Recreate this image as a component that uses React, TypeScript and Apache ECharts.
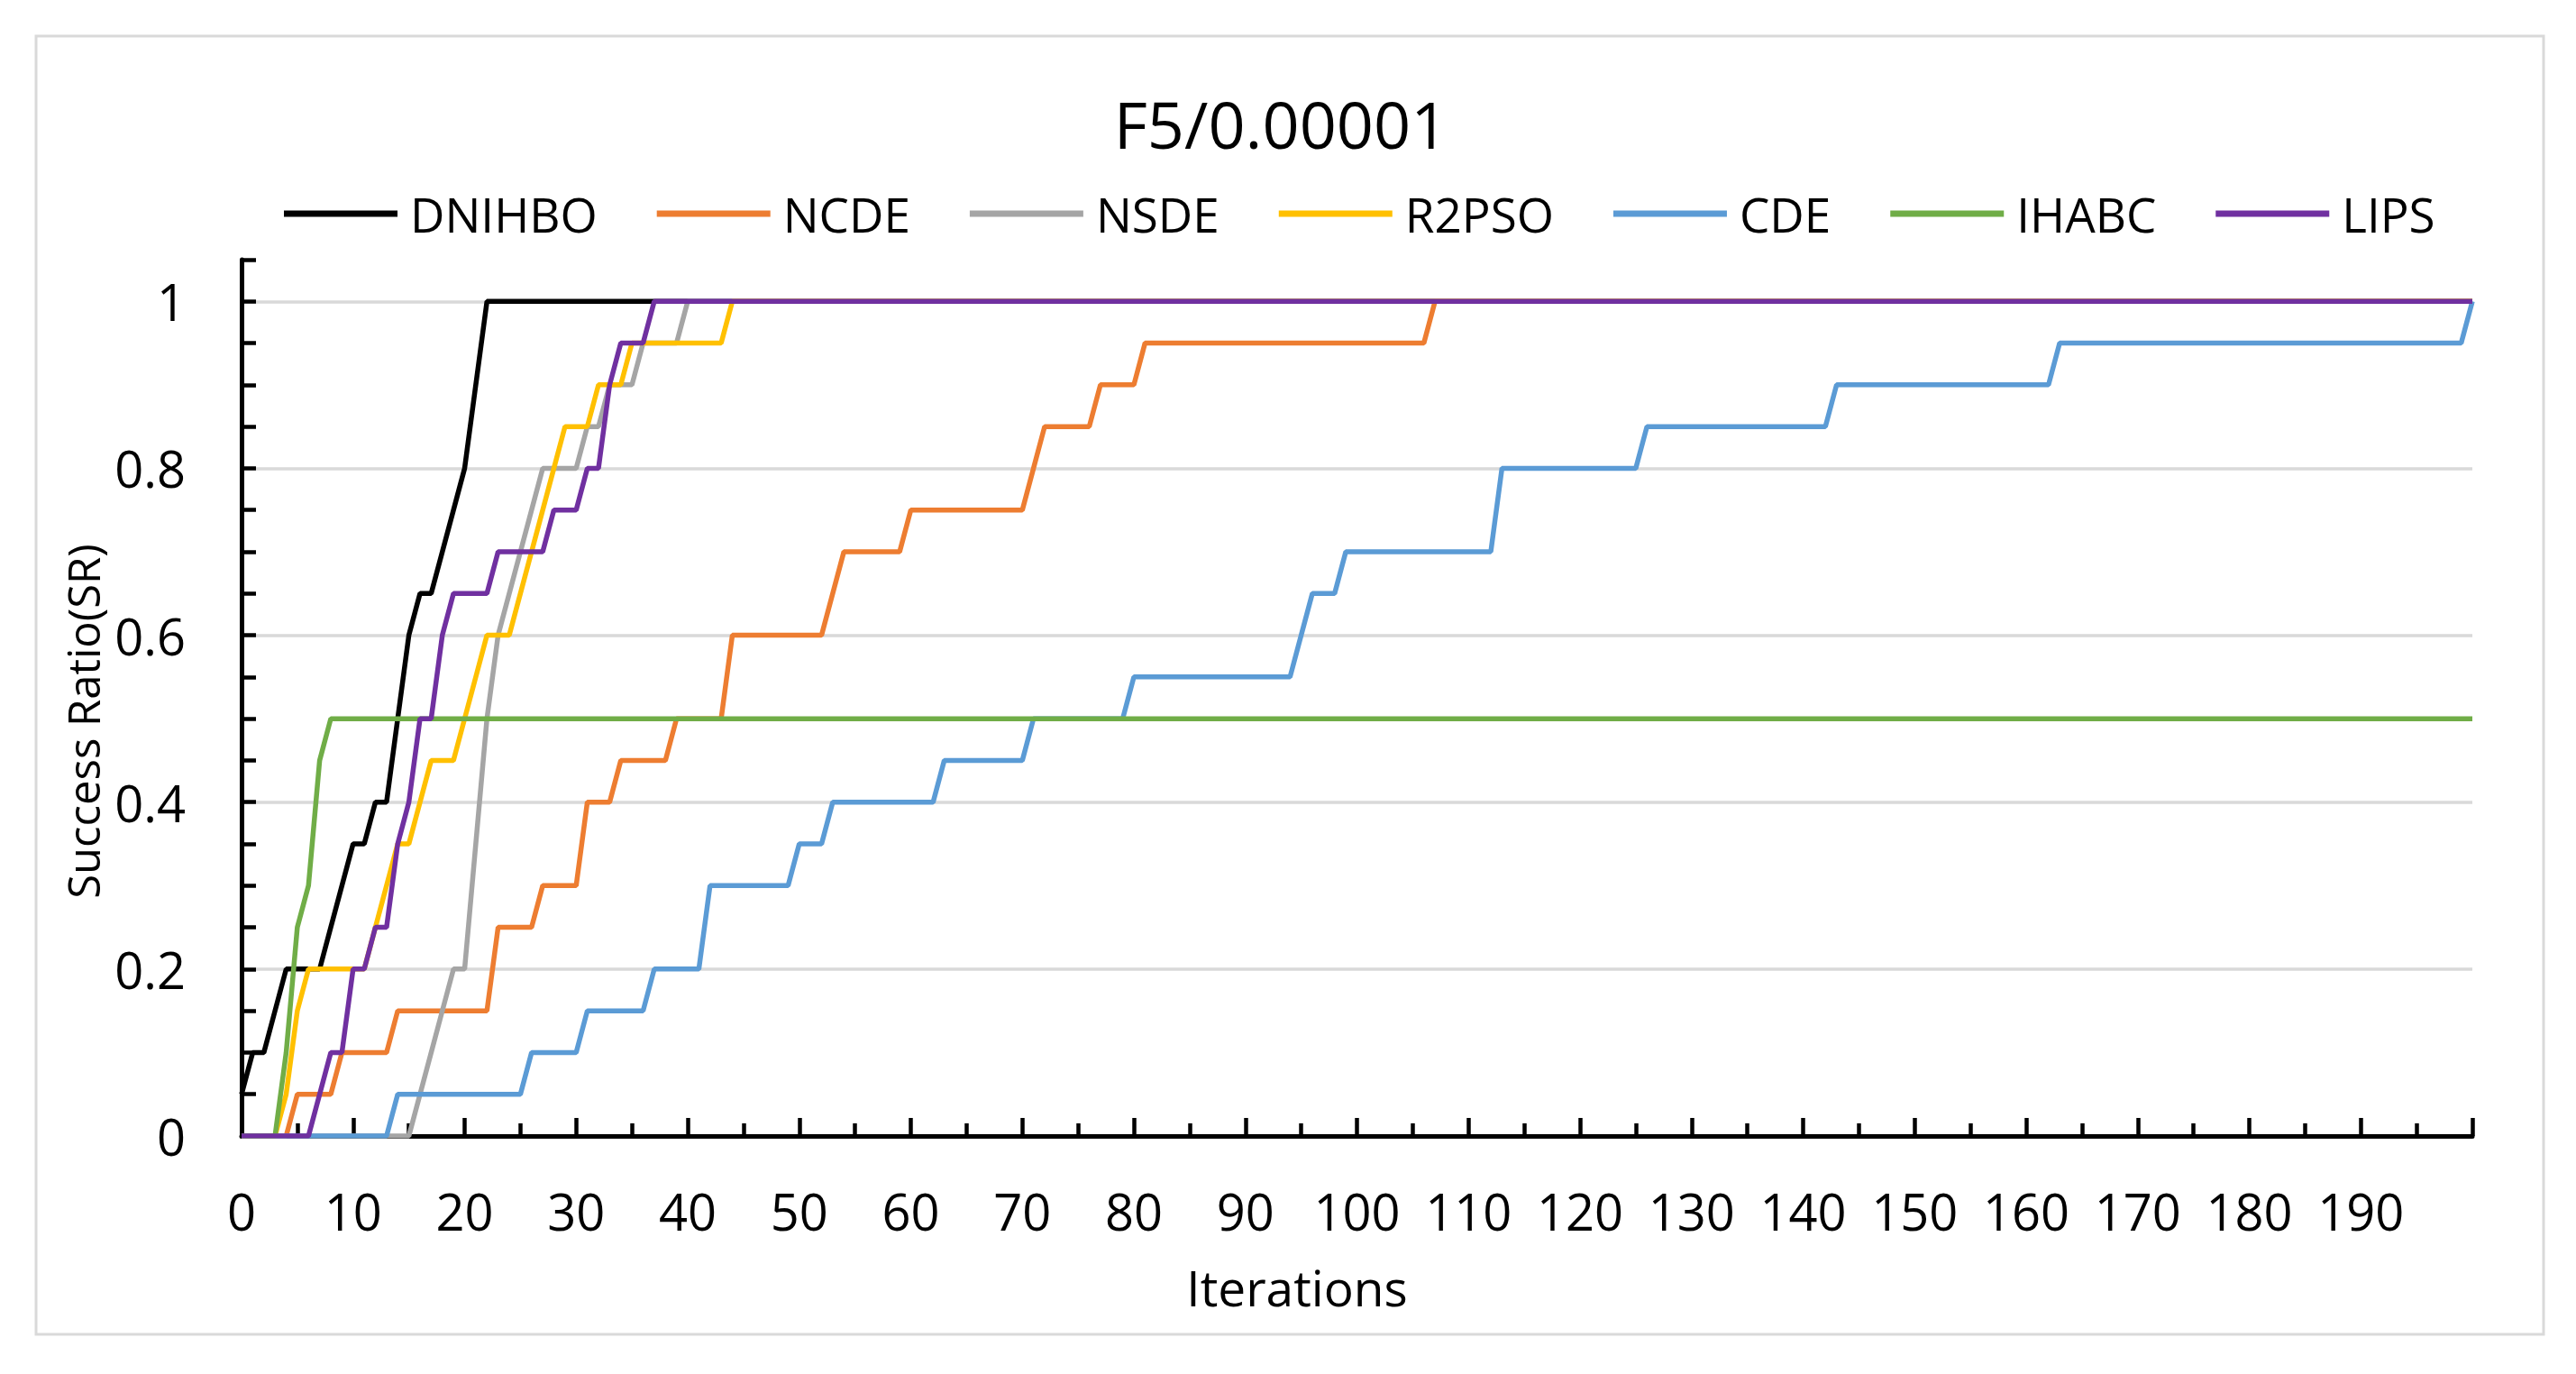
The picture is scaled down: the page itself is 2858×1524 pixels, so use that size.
import React, { useEffect, useRef } from "react";
import * as echarts from "echarts";

const chartTitle = "F5/0.00001";
const xAxisTitle = "Iterations";
const yAxisTitle = "Success Ratio(SR)";
const seriesNames = ["DNIHBO", "NCDE", "NSDE", "R2PSO", "CDE", "IHABC", "LIPS"];
const seriesColors = ["#000000", "#ED7D31", "#A5A5A5", "#FFC000", "#5B9BD5", "#70AD47", "#7030A0"];

const xMin = 0;
const xMax = 200;
const xStep = 10;
const yMin = 0;
const yMax = 1.05;
const yStep = 0.05;
const yLabelValues = [0, 0.2, 0.4, 0.6, 0.8, 1];

// Vertices [iteration, success ratio]
const dnihbo = [[0, 0.05], [1, 0.1], [2, 0.1], [3, 0.15], [4, 0.2], [7, 0.2], [8, 0.25], [9, 0.3], [10, 0.35], [11, 0.35], [12, 0.4], [13, 0.4], [14, 0.5], [15, 0.6], [16, 0.65], [17, 0.65], [18, 0.7], [19, 0.75], [20, 0.8], [21, 0.9], [22, 1], [200, 1]];
const ncde = [[0, 0], [4, 0], [5, 0.05], [8, 0.05], [9, 0.1], [13, 0.1], [14, 0.15], [22, 0.15], [23, 0.25], [26, 0.25], [27, 0.3], [30, 0.3], [31, 0.4], [33, 0.4], [34, 0.45], [38, 0.45], [39, 0.5], [43, 0.5], [44, 0.6], [52, 0.6], [53, 0.65], [54, 0.7], [59, 0.7], [60, 0.75], [70, 0.75], [71, 0.8], [72, 0.85], [76, 0.85], [77, 0.9], [80, 0.9], [81, 0.95], [106, 0.95], [107, 1], [200, 1]];
const nsde = [[0, 0], [15, 0], [16, 0.05], [17, 0.1], [18, 0.15], [19, 0.2], [20, 0.2], [21, 0.35], [22, 0.5], [23, 0.6], [24, 0.65], [25, 0.7], [26, 0.75], [27, 0.8], [30, 0.8], [31, 0.85], [32, 0.85], [33, 0.9], [35, 0.9], [36, 0.95], [39, 0.95], [40, 1], [200, 1]];
const r2pso = [[0, 0], [3, 0], [4, 0.05], [5, 0.15], [6, 0.2], [11, 0.2], [12, 0.25], [13, 0.3], [14, 0.35], [15, 0.35], [16, 0.4], [17, 0.45], [19, 0.45], [20, 0.5], [21, 0.55], [22, 0.6], [24, 0.6], [25, 0.65], [26, 0.7], [27, 0.75], [28, 0.8], [29, 0.85], [31, 0.85], [32, 0.9], [34, 0.9], [35, 0.95], [43, 0.95], [44, 1], [200, 1]];
const cde = [[0, 0], [13, 0], [14, 0.05], [25, 0.05], [26, 0.1], [30, 0.1], [31, 0.15], [36, 0.15], [37, 0.2], [41, 0.2], [42, 0.3], [49, 0.3], [50, 0.35], [52, 0.35], [53, 0.4], [62, 0.4], [63, 0.45], [70, 0.45], [71, 0.5], [79, 0.5], [80, 0.55], [94, 0.55], [95, 0.6], [96, 0.65], [98, 0.65], [99, 0.7], [112, 0.7], [113, 0.8], [125, 0.8], [126, 0.85], [142, 0.85], [143, 0.9], [162, 0.9], [163, 0.95], [199, 0.95], [200, 1]];
const ihabc = [[0, 0], [3, 0], [4, 0.1], [5, 0.25], [6, 0.3], [7, 0.45], [8, 0.5], [200, 0.5]];
const lips = [[0, 0], [6, 0], [7, 0.05], [8, 0.1], [9, 0.1], [10, 0.2], [11, 0.2], [12, 0.25], [13, 0.25], [14, 0.35], [15, 0.4], [16, 0.5], [17, 0.5], [18, 0.6], [19, 0.65], [22, 0.65], [23, 0.7], [27, 0.7], [28, 0.75], [30, 0.75], [31, 0.8], [32, 0.8], [33, 0.9], [34, 0.95], [36, 0.95], [37, 1], [200, 1]];

const seriesData = [dnihbo, ncde, nsde, r2pso, cde, ihabc, lips];

const FONT = "'Open Sans', 'Noto Sans', sans-serif";

export default function App() {
  const ref = useRef<HTMLDivElement>(null);

  useEffect(() => {
    if (!ref.current) return;
    const chart = echarts.init(ref.current, null, { renderer: "svg" });

    const yTickCount = Math.round((yMax - yMin) / yStep) + 1;
    const splitColors: string[] = [];
    for (let i = 0; i < yTickCount; i++) {
      const v = yMin + i * yStep;
      const isLabel = yLabelValues.some((l) => Math.abs(l - v) < 1e-6);
      splitColors.push(isLabel ? "#d9d9d9" : "rgba(0,0,0,0)");
    }

    const option: any = {
      animation: false,
      backgroundColor: "#ffffff",
      title: {
        text: chartTitle,
        left: 1413,
        top: 86,
        textAlign: "center",
        padding: 0,
        textStyle: { fontFamily: FONT, fontSize: 72, fontWeight: "normal", color: "#000000", lineHeight: 86 },
      },
      legend: {
        data: seriesNames,
        top: 197,
        left: 307,
        padding: 0,
        icon: "rect",
        itemWidth: 126,
        itemHeight: 7,
        itemGap: 66,
        textStyle: { fontFamily: FONT, fontSize: 53, color: "#000000", lineHeight: 64, padding: [0, 0, 0, 9] },
      },
      grid: { left: 260, right: 107, top: 280, bottom: 256, containLabel: false },
      xAxis: {
        type: "value",
        min: xMin,
        max: xMax,
        interval: xStep,
        axisLine: { show: true, onZero: false, lineStyle: { color: "#000000", width: 5 } },
        axisTick: { show: true, inside: true, length: 20, lineStyle: { color: "#000000", width: 4.5 } },
        minorTick: { show: true, splitNumber: 2, length: 14, lineStyle: { color: "#000000", width: 4.5 } },
        axisLabel: {
          margin: 55,
          fontFamily: FONT,
          fontSize: 56,
          color: "#000000",
          formatter: (v: number) => (v >= xMax ? "" : String(v)),
        },
        splitLine: { show: false },
      },
      yAxis: {
        type: "value",
        min: yMin,
        max: yMax,
        interval: yStep,
        axisLine: { show: true, lineStyle: { color: "#000000", width: 5 } },
        axisTick: { show: true, inside: true, length: 16, lineStyle: { color: "#000000", width: 4.5 } },
        axisLabel: {
          margin: 62,
          fontFamily: FONT,
          fontSize: 56,
          color: "#000000",
          formatter: (v: number) => {
            const hit = yLabelValues.find((l) => Math.abs(l - v) < 1e-6);
            return hit === undefined ? "" : String(hit);
          },
        },
        splitLine: { show: true, lineStyle: { color: splitColors, width: 3.5 } },
      },
      graphic: [
        {
          type: "rect",
          silent: true,
          z: -10,
          shape: { x: 32, y: 32, width: 2782, height: 1440 },
          style: { fill: "none", stroke: "#d9d9d9", lineWidth: 3 },
        },
        {
          type: "text",
          x: 1431,
          y: 1419,
          style: { text: xAxisTitle, fontFamily: FONT, fontSize: 55, fill: "#000000", align: "center", verticalAlign: "middle" },
        },
        {
          type: "text",
          x: 84,
          y: 792,
          rotation: Math.PI / 2,
          style: { text: yAxisTitle, fontFamily: FONT, fontSize: 49, fill: "#000000", align: "center", verticalAlign: "middle" },
        },
      ],
      series: seriesNames.map((name, i) => ({
        name,
        type: "line",
        data: seriesData[i],
        showSymbol: false,
        symbol: "none",
        lineStyle: { color: seriesColors[i], width: 5.5 },
        itemStyle: { color: seriesColors[i] },
        z: 2 + i,
      })),
    };

    chart.setOption(option);
    return () => chart.dispose();
  }, []);

  return <div ref={ref} style={{ width: 2842, height: 1508 }} />;
}
